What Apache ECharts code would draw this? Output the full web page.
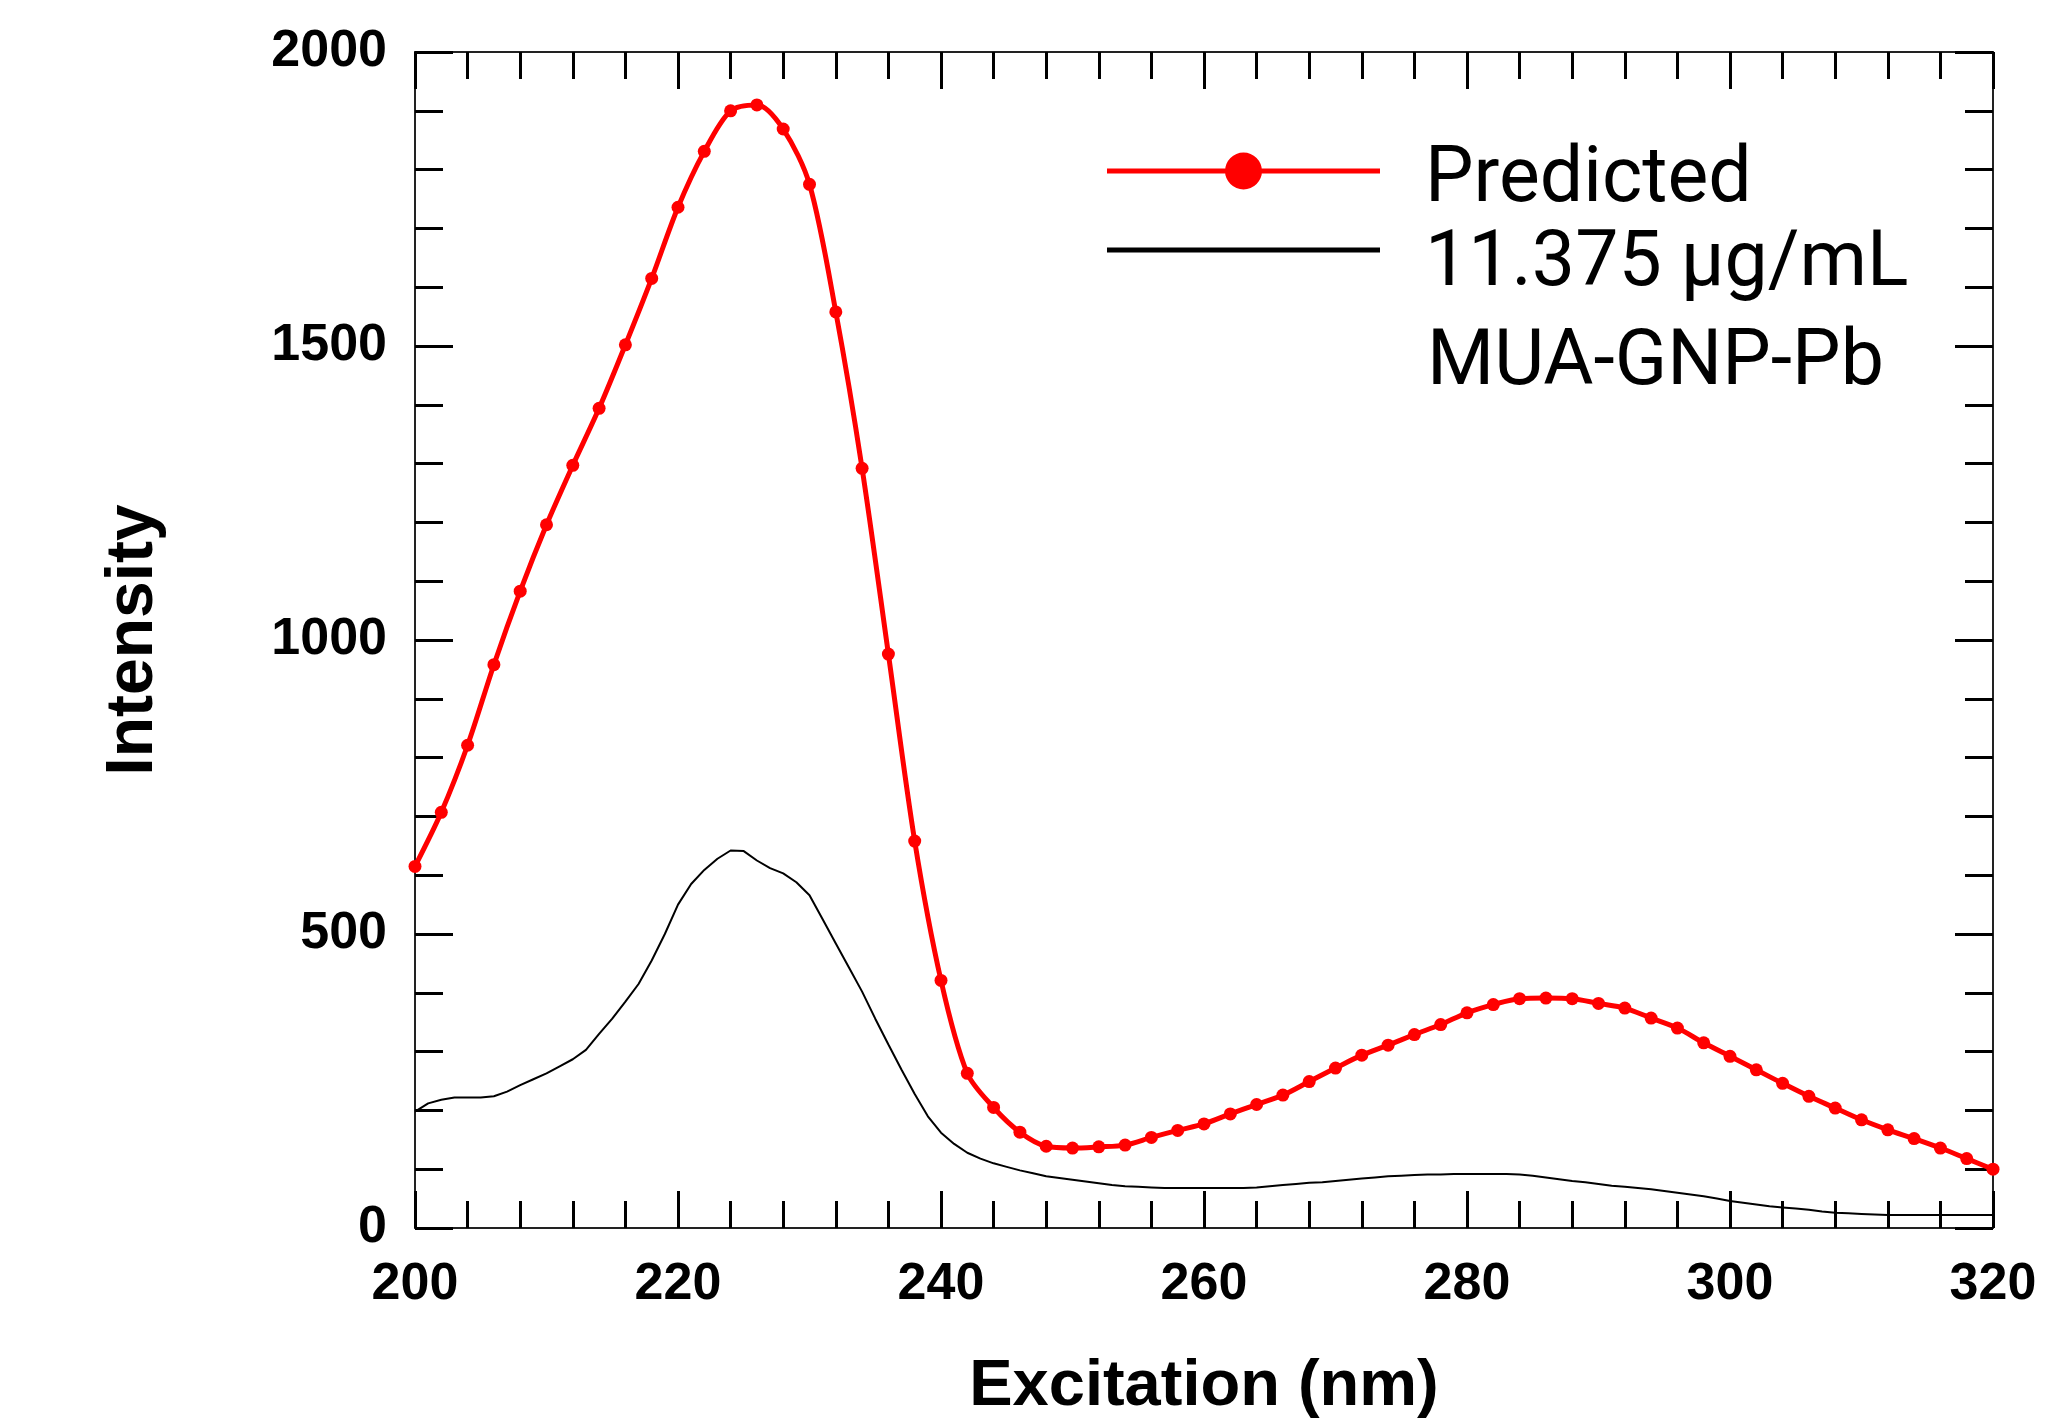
<!DOCTYPE html>
<html>
<head>
<meta charset="utf-8">
<script src="https://cdn.jsdelivr.net/npm/echarts@6/dist/echarts.min.js"></script>
<style>
  html, body { margin: 0; padding: 0; background: #fff; }
  #chart { width: 2065px; height: 1425px; }
</style>
</head>
<body>
<div id="chart"></div>
<script>
// Excitation wavelength (nm) for the predicted spectrum (markers every 2 nm)
const xPredicted = [200,202,204,206,208,210,212,214,216,218,220,222,224,226,228,230,232,234,236,238,240,242,244,246,248,250,252,254,256,258,260,262,264,266,268,270,272,274,276,278,280,282,284,286,288,290,292,294,296,298,300,302,304,306,308,310,312,314,316,318,320];
const yPredicted = [615,707,821,958,1083,1196,1297,1394,1502,1615,1736,1831,1900,1910,1869,1775,1558,1292,976,658,421,263,205,163,139,136,138,141,154,166,177,194,210,226,249,272,294,311,329,346,366,380,390,391,390,382,374,357,340,315,292,269,246,224,204,184,167,152,136,118,100];

// Excitation wavelength (nm) for the measured spectrum (1 nm steps)
const xMeasured = [200,201,202,203,204,205,206,207,208,209,210,211,212,213,214,215,216,217,218,219,220,221,222,223,224,225,226,227,228,229,230,231,232,233,234,235,236,237,238,239,240,241,242,243,244,245,246,247,248,249,250,251,252,253,254,255,256,257,258,259,260,261,262,263,264,265,266,267,268,269,270,271,272,273,274,275,276,277,278,279,280,281,282,283,284,285,286,287,288,289,290,291,292,293,294,295,296,297,298,299,300,301,302,303,304,305,306,307,308,309,310,311,312,313,314,315,316,317,318,319,320];
const yMeasured = [198,212,218,222,222,222,224,232,243,253,
  263,275,287,303,330,356,385,415,455,500,
  550,585,609,628,642,641,625,612,603,588,
  566,525,484,443,402,356,312,269,228,190,
  162,143,128,118,110,104,98,93,88,85,
  82,79,76,73,71,70,69,68,68,68,
  68,68,68,68,69,71,73,75,77,78,
  80,82,84,86,88,89,90,91,91,92,
  92,92,92,92,91,89,86,83,80,78,
  75,72,70,68,66,63,60,57,54,50,
  46,43,40,37,35,33,31,28,26,25,
  24,23,22,22,22,22,22,22,22,22,22];

const seriesNames = ['Predicted', '11.375 µg/mL'];
const legendExtraLine = 'MUA-GNP-Pb';
const xAxisName = 'Excitation (nm)';
const yAxisName = 'Intensity';
const xRange = [200, 320, 20];
const yRange = [0, 2000, 500];

function zip(xs, ys) { return xs.map((x, i) => [x, ys[i]]); }

const tickStyle = { color: '#000', width: 3 };
const axisLineStyle = { color: '#222', width: 2 };
const labelFont = { fontFamily: 'Liberation Sans', fontWeight: 'bold', fontSize: 52, color: '#000' };

function xAx(pos, showLabel) {
  return {
    type: 'value', position: pos, min: xRange[0], max: xRange[1], interval: xRange[2],
    axisLine: { show: true, onZero: false, lineStyle: axisLineStyle },
    axisTick: { show: true, inside: true, length: 37, lineStyle: tickStyle },
    minorTick: { show: true, splitNumber: 5, length: 27, lineStyle: tickStyle },
    splitLine: { show: false }, minorSplitLine: { show: false },
    axisLabel: Object.assign({ show: showLabel, margin: 31, formatter: v => String(v) }, labelFont),
    name: showLabel ? xAxisName : '', nameLocation: 'middle', nameGap: 127,
    nameTextStyle: { fontFamily: 'Liberation Sans', fontWeight: 'bold', fontSize: 65, color: '#000' }
  };
}
function yAx(pos, showLabel) {
  return {
    type: 'value', position: pos, min: yRange[0], max: yRange[1], interval: yRange[2],
    axisLine: { show: true, onZero: false, lineStyle: axisLineStyle },
    axisTick: { show: true, inside: true, length: 38, lineStyle: tickStyle },
    minorTick: { show: true, splitNumber: 5, length: 28, lineStyle: tickStyle },
    splitLine: { show: false }, minorSplitLine: { show: false },
    axisLabel: Object.assign({ show: showLabel, margin: 28, formatter: v => String(v) }, labelFont),
    name: showLabel ? yAxisName : '', nameLocation: 'middle', nameGap: 248, nameRotate: 90,
    nameTextStyle: { fontFamily: 'Liberation Sans', fontWeight: 'bold', fontSize: 66, color: '#000' }
  };
}

// legend icons: box 273 x 67 (degenerate points fix the bounding box)
const redIcon = 'path://M0,0 Z M273,67 Z ' +
  'M0,20 L118.5,20 L118.5,25 L0,25 Z ' +
  'M154.5,20 L273,20 L273,25 L154.5,25 Z ' +
  'M118,22.5 A18.5,18.5 0 1,1 155,22.5 A18.5,18.5 0 1,1 118,22.5 Z';
const blackIcon = 'path://M0,0 Z M273,67 Z M0,15.5 L273,15.5 L273,20.5 L0,20.5 Z';

const chart = echarts.init(document.getElementById('chart'), null, { renderer: 'canvas' });
chart.setOption({
  animation: false,
  backgroundColor: '#fff',
  grid: { left: 415, top: 52, width: 1578, height: 1178, containLabel: false },
  xAxis: [xAx('bottom', true), xAx('top', false)],
  yAxis: [yAx('left', true), yAx('right', false)],
  legend: {
    orient: 'vertical', left: 1107, top: 143.5, padding: 0, itemGap: 6.5,
    itemWidth: 273, itemHeight: 67, selectedMode: false,
    itemStyle: { borderWidth: 0 },
    textStyle: { fontFamily: 'Roboto', fontSize: 77, color: '#000', padding: [0, 0, 0, 40] },
    data: [
      { name: seriesNames[0], icon: redIcon },
      { name: seriesNames[1], icon: blackIcon }
    ]
  },
  graphic: [{
    type: 'text', left: 1427, top: 326, silent: true,
    style: { text: legendExtraLine, fontFamily: 'Roboto', fontSize: 77, fill: '#000' }
  }],
  series: [
    {
      name: seriesNames[1], type: 'line', data: zip(xMeasured, yMeasured),
      symbol: 'none', smooth: false,
      lineStyle: { color: '#000', width: 2 }, itemStyle: { color: '#000' }, z: 2
    },
    {
      name: seriesNames[0], type: 'line', data: zip(xPredicted, yPredicted),
      symbol: 'circle', symbolSize: 13, smooth: 0.3,
      lineStyle: { color: '#ff0000', width: 5 }, itemStyle: { color: '#ff0000', borderWidth: 0 }, z: 3
    }
  ]
});
</script>
</body>
</html>
